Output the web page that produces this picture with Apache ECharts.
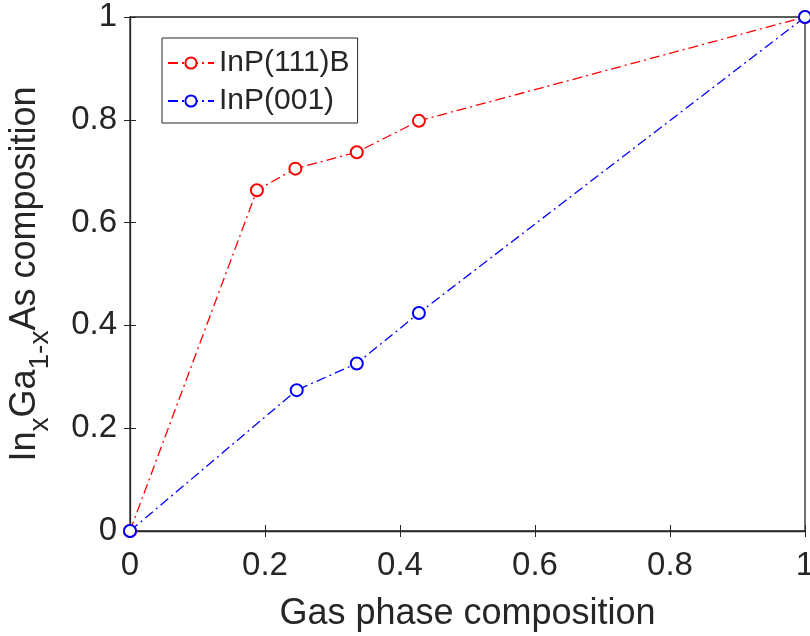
<!DOCTYPE html>
<html>
<head>
<meta charset="utf-8">
<script src="https://cdn.jsdelivr.net/npm/echarts@6/dist/echarts.min.js"></script>
<style>
  html, body { margin: 0; padding: 0; background: #fff; }
  #compChart { width: 810px; height: 636px; }
</style>
</head>
<body>
<div id="compChart"></div>
<script>
var compChart = echarts.init(document.getElementById("compChart"));

// gas phase composition (x) and solid composition (y)
let gas111B = [0, 0.188, 0.245, 0.336, 0.428, 1];
let solid111B = [0, 0.663, 0.705, 0.737, 0.798, 1];

let gas001 = [0, 0.247, 0.336, 0.428, 1];
let solid001 = [0, 0.274, 0.326, 0.424, 1];

let tickVals = [0, 0.2, 0.4, 0.6, 0.8, 1];

function pairs(xs, ys){
  return xs.map((x, i) => [x, ys[i]]);
}

var axisCol = '#262626';
var fontFam = 'Liberation Sans, Arial, sans-serif';
var dashDot = [10, 4, 2, 4];

function fmt(v){
  return tickVals.indexOf(v) >= 0 ? String(v) : '';
}

compChart.setOption(
  (option = {
    animation: false,
    textStyle: { fontFamily: fontFam },
    grid: {
      left: 130,
      right: 5,
      top: 17,
      bottom: 105,
      outerBoundsMode: 'none',
      containLabel: false,
      show: true,
      borderColor: axisCol,
      borderWidth: 1.3
    },
    legend: {
      orient: 'vertical',
      left: 162,
      top: 38,
      padding: [10, 8, 7, 5],
      itemGap: 8,
      itemWidth: 46,
      itemHeight: 14,
      borderColor: axisCol,
      borderWidth: 1,
      textStyle: { fontSize: 30, color: axisCol, fontFamily: fontFam },
      data: ['InP(111)B', 'InP(001)']
    },
    xAxis: [
      {
        type: 'value',
        min: 0,
        max: 1,
        interval: 0.2,
        name: 'Gas phase composition',
        nameLocation: 'middle',
        nameGap: 65,
        nameTextStyle: { fontSize: 36, color: axisCol },
        axisLine: { lineStyle: { color: axisCol, width: 1.3 } },
        axisTick: { inside: true, length: 6, lineStyle: { color: axisCol } },
        axisLabel: { fontSize: 33, color: axisCol, margin: 18, formatter: fmt },
        splitLine: { show: false }
      },
      {
        type: 'value',
        position: 'top',
        min: 0,
        max: 1,
        interval: 0.2,
        axisLine: { show: false },
        axisTick: { inside: true, length: 6, lineStyle: { color: axisCol } },
        axisLabel: { show: false },
        splitLine: { show: false }
      }
    ],
    yAxis: [
      {
        type: 'value',
        min: 0,
        max: 1,
        interval: 0.2,
        name: '{n|In}{s|x}{n|Ga}{s|1-x}{n|As composition}',
        nameLocation: 'middle',
        nameGap: 76,
        nameTextStyle: {
          color: axisCol,
          rich: {
            n: { fontSize: 36, color: axisCol, fontFamily: fontFam },
            s: { fontSize: 28, color: axisCol, fontFamily: fontFam, padding: [30, 0, 0, 0] }
          }
        },
        axisLine: { lineStyle: { color: axisCol, width: 1.3 } },
        axisTick: { inside: true, length: 6, lineStyle: { color: axisCol } },
        axisLabel: { fontSize: 33, color: axisCol, margin: 13, formatter: fmt },
        splitLine: { show: false }
      },
      {
        type: 'value',
        position: 'right',
        min: 0,
        max: 1,
        interval: 0.2,
        axisLine: { show: false },
        axisTick: { inside: true, length: 6, lineStyle: { color: axisCol } },
        axisLabel: { show: false },
        splitLine: { show: false }
      }
    ],
    series: [
      {
        name: 'InP(111)B',
        type: 'line',
        color: '#FF0000',
        data: pairs(gas111B, solid111B),
        symbol: 'emptyCircle',
        symbolSize: 12,
        clip: false,
        lineStyle: { width: 1.3, type: dashDot },
        itemStyle: { borderWidth: 1.2 }
      },
      {
        name: 'InP(001)',
        type: 'line',
        color: '#0000FF',
        data: pairs(gas001, solid001),
        symbol: 'emptyCircle',
        symbolSize: 12,
        clip: false,
        lineStyle: { width: 1.3, type: dashDot },
        itemStyle: { borderWidth: 1.2 }
      }
    ]
  })
);
</script>
</body>
</html>
